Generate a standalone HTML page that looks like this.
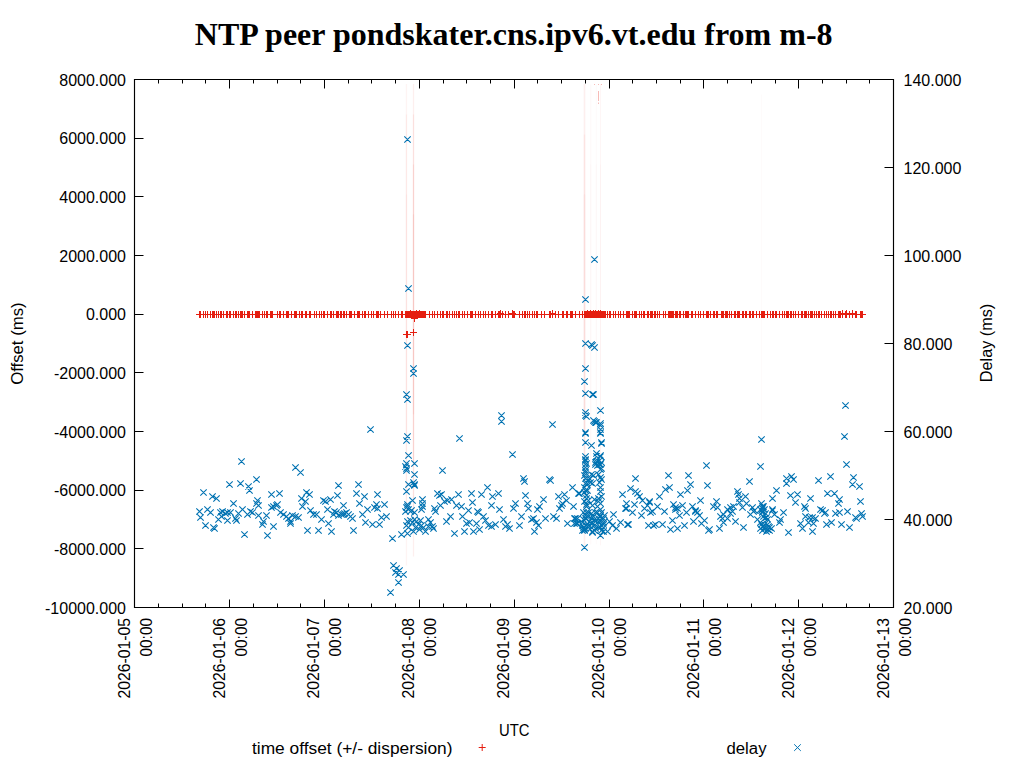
<!DOCTYPE html>
<html><head><meta charset="utf-8"><title>NTP peer pondskater.cns.ipv6.vt.edu from m-8</title><style>html,body{margin:0;padding:0;background:#fff;overflow:hidden}svg{display:block}</style></head><body>
<svg width="1024" height="768" viewBox="0 0 1024 768">
<rect width="1024" height="768" fill="#fff"/>
<line x1="406.5" y1="84.0" x2="406.5" y2="565.4" stroke="#e51e10" stroke-opacity="0.05" stroke-width="1.3"/>
<line x1="406.5" y1="114.4" x2="406.5" y2="514.4" stroke="#e51e10" stroke-opacity="0.05" stroke-width="1.3"/>
<line x1="406.5" y1="194.4" x2="406.5" y2="434.4" stroke="#e51e10" stroke-opacity="0.03" stroke-width="1.3"/>
<line x1="413.5" y1="84.0" x2="413.5" y2="556.4" stroke="#e51e10" stroke-opacity="0.07" stroke-width="1.3"/>
<line x1="413.5" y1="114.4" x2="413.5" y2="514.4" stroke="#e51e10" stroke-opacity="0.07" stroke-width="1.3"/>
<line x1="413.5" y1="164.4" x2="413.5" y2="464.4" stroke="#e51e10" stroke-opacity="0.07" stroke-width="1.3"/>
<line x1="413.5" y1="214.4" x2="413.5" y2="414.4" stroke="#e51e10" stroke-opacity="0.06" stroke-width="1.3"/>
<line x1="584.5" y1="84.0" x2="584.5" y2="545.4" stroke="#e51e10" stroke-opacity="0.07" stroke-width="1.6"/>
<line x1="584.5" y1="134.4" x2="584.5" y2="494.4" stroke="#e51e10" stroke-opacity="0.05" stroke-width="1.6"/>
<line x1="584.5" y1="194.4" x2="584.5" y2="434.4" stroke="#e51e10" stroke-opacity="0.04" stroke-width="1.6"/>
<line x1="590.8" y1="84.4" x2="590.8" y2="544.4" stroke="#e51e10" stroke-opacity="0.03" stroke-width="1.0"/>
<line x1="590.8" y1="164.4" x2="590.8" y2="464.4" stroke="#e51e10" stroke-opacity="0.02" stroke-width="1.0"/>
<line x1="596.2" y1="84.4" x2="596.2" y2="544.4" stroke="#e51e10" stroke-opacity="0.025" stroke-width="1.0"/>
<line x1="596.2" y1="164.4" x2="596.2" y2="464.4" stroke="#e51e10" stroke-opacity="0.02" stroke-width="1.0"/>
<line x1="600.6" y1="84.0" x2="600.6" y2="545.4" stroke="#e51e10" stroke-opacity="0.04" stroke-width="1.0"/>
<line x1="600.6" y1="164.4" x2="600.6" y2="464.4" stroke="#e51e10" stroke-opacity="0.02" stroke-width="1.0"/>
<line x1="761.4" y1="94.4" x2="761.4" y2="534.4" stroke="#e51e10" stroke-opacity="0.02" stroke-width="1.0"/>
<path d="M598.5 91v10M598.5 102.5v1.5M594 84.5h1M598 84.5h1M601 84.5h1" stroke="#e51e10" stroke-opacity="0.3" stroke-width="1"/>
<path d="M196 314.5h7M199.5 311v7M197 314.5h7M200.5 311v7M200 314.5h7M203.5 311v7M202 314.5h7M205.5 311v7M204 314.5h7M207.5 311v7M207 314.5h7M210.5 311v7M209 314.5h7M212.5 311v7M210 314.5h7M213.5 311v7M211 314.5h7M214.5 311v7M213 314.5h7M216.5 311v7M215 314.5h7M218.5 311v7M217 314.5h7M220.5 311v7M218 314.5h7M221.5 311v7M220 314.5h7M223.5 311v7M223 314.5h7M226.5 311v7M224 314.5h7M227.5 311v7M226 314.5h7M229.5 311v7M227 314.5h7M230.5 311v7M230 314.5h7M233.5 311v7M232 314.5h7M235.5 311v7M233 314.5h7M236.5 311v7M235 314.5h7M238.5 311v7M237 314.5h7M240.5 311v7M238 314.5h7M241.5 311v7M239 314.5h7M242.5 311v7M241 314.5h7M244.5 311v7M244 314.5h7M247.5 311v7M245 314.5h7M248.5 311v7M246 314.5h7M249.5 311v7M249 314.5h7M252.5 311v7M252 314.5h7M255.5 311v7M253 314.5h7M256.5 311v7M254 314.5h7M257.5 311v7M255 314.5h7M258.5 311v7M256 314.5h7M259.5 311v7M259 314.5h7M262.5 311v7M261 314.5h7M264.5 311v7M263 314.5h7M266.5 311v7M264 314.5h7M267.5 311v7M267 314.5h7M270.5 311v7M268 314.5h7M271.5 311v7M269 314.5h7M272.5 311v7M274 314.5h7M277.5 311v7M276 314.5h7M279.5 311v7M277 314.5h7M280.5 311v7M280 314.5h7M283.5 311v7M283 314.5h7M286.5 311v7M284 314.5h7M287.5 311v7M285 314.5h7M288.5 311v7M288 314.5h7M291.5 311v7M291 314.5h7M294.5 311v7M292 314.5h7M295.5 311v7M293 314.5h7M296.5 311v7M296 314.5h7M299.5 311v7M298 314.5h7M301.5 311v7M299 314.5h7M302.5 311v7M302 314.5h7M305.5 311v7M303 314.5h7M306.5 311v7M306 314.5h7M309.5 311v7M307 314.5h7M310.5 311v7M311 314.5h7M314.5 311v7M313 314.5h7M316.5 311v7M316 314.5h7M319.5 311v7M318 314.5h7M321.5 311v7M320 314.5h7M323.5 311v7M321 314.5h7M324.5 311v7M324 314.5h7M327.5 311v7M327 314.5h7M330.5 311v7M328 314.5h7M331.5 311v7M330 314.5h7M333.5 311v7M333 314.5h7M336.5 311v7M334 314.5h7M337.5 311v7M335 314.5h7M338.5 311v7M337 314.5h7M340.5 311v7M338 314.5h7M341.5 311v7M340 314.5h7M343.5 311v7M341 314.5h7M344.5 311v7M343 314.5h7M346.5 311v7M346 314.5h7M349.5 311v7M347 314.5h7M350.5 311v7M348 314.5h7M351.5 311v7M351 314.5h7M354.5 311v7M354 314.5h7M357.5 311v7M355 314.5h7M358.5 311v7M356 314.5h7M359.5 311v7M359 314.5h7M362.5 311v7M361 314.5h7M364.5 311v7M362 314.5h7M365.5 311v7M365 314.5h7M368.5 311v7M368 314.5h7M371.5 311v7M370 314.5h7M373.5 311v7M373 314.5h7M376.5 311v7M374 314.5h7M377.5 311v7M375 314.5h7M378.5 311v7M377 314.5h7M380.5 311v7M381 314.5h7M384.5 311v7M384 314.5h7M387.5 311v7M388 314.5h7M391.5 311v7M390 314.5h7M393.5 311v7M392 314.5h7M395.5 311v7M395 314.5h7M398.5 311v7M398 314.5h7M401.5 311v7M399 314.5h7M402.5 311v7M426 314.5h7M429.5 311v7M429 314.5h7M432.5 311v7M431 314.5h7M434.5 311v7M434 314.5h7M437.5 311v7M437 314.5h7M440.5 311v7M439 314.5h7M442.5 311v7M440 314.5h7M443.5 311v7M443 314.5h7M446.5 311v7M444 314.5h7M447.5 311v7M446 314.5h7M449.5 311v7M449 314.5h7M452.5 311v7M451 314.5h7M454.5 311v7M453 314.5h7M456.5 311v7M455 314.5h7M458.5 311v7M456 314.5h7M459.5 311v7M459 314.5h7M462.5 311v7M461 314.5h7M464.5 311v7M464 314.5h7M467.5 311v7M467 314.5h7M470.5 311v7M468 314.5h7M471.5 311v7M469 314.5h7M472.5 311v7M472 314.5h7M475.5 311v7M475 314.5h7M478.5 311v7M477 314.5h7M480.5 311v7M480 314.5h7M483.5 311v7M482 314.5h7M485.5 311v7M485 314.5h7M488.5 311v7M488 314.5h7M491.5 311v7M489 314.5h7M492.5 311v7M492 314.5h7M495.5 311v7M495 314.5h7M498.5 311v7M496 314.5h7M499.5 311v7M497 314.5h7M500.5 311v7M499 314.5h7M502.5 311v7M502 314.5h7M505.5 311v7M505 314.5h7M508.5 311v7M509 314.5h7M512.5 311v7M510 314.5h7M513.5 311v7M511 314.5h7M514.5 311v7M516 314.5h7M519.5 311v7M519 314.5h7M522.5 311v7M521 314.5h7M524.5 311v7M522 314.5h7M525.5 311v7M524 314.5h7M527.5 311v7M526 314.5h7M529.5 311v7M529 314.5h7M532.5 311v7M531 314.5h7M534.5 311v7M533 314.5h7M536.5 311v7M534 314.5h7M537.5 311v7M538 314.5h7M541.5 311v7M541 314.5h7M544.5 311v7M546 314.5h7M549.5 311v7M547 314.5h7M550.5 311v7M549 314.5h7M552.5 311v7M552 314.5h7M555.5 311v7M555 314.5h7M558.5 311v7M559 314.5h7M562.5 311v7M560 314.5h7M563.5 311v7M563 314.5h7M566.5 311v7M564 314.5h7M567.5 311v7M567 314.5h7M570.5 311v7M568 314.5h7M571.5 311v7M569 314.5h7M572.5 311v7M572 314.5h7M575.5 311v7M576 314.5h7M579.5 311v7M579 314.5h7M582.5 311v7M604 314.5h7M607.5 311v7M606 314.5h7M609.5 311v7M607 314.5h7M610.5 311v7M610 314.5h7M613.5 311v7M612 314.5h7M615.5 311v7M615 314.5h7M618.5 311v7M617 314.5h7M620.5 311v7M620 314.5h7M623.5 311v7M623 314.5h7M626.5 311v7M624 314.5h7M627.5 311v7M625 314.5h7M628.5 311v7M626 314.5h7M629.5 311v7M629 314.5h7M632.5 311v7M631 314.5h7M634.5 311v7M632 314.5h7M635.5 311v7M633 314.5h7M636.5 311v7M636 314.5h7M639.5 311v7M638 314.5h7M641.5 311v7M640 314.5h7M643.5 311v7M641 314.5h7M644.5 311v7M644 314.5h7M647.5 311v7M645 314.5h7M648.5 311v7M647 314.5h7M650.5 311v7M648 314.5h7M651.5 311v7M649 314.5h7M652.5 311v7M651 314.5h7M654.5 311v7M652 314.5h7M655.5 311v7M654 314.5h7M657.5 311v7M656 314.5h7M659.5 311v7M660 314.5h7M663.5 311v7M662 314.5h7M665.5 311v7M665 314.5h7M668.5 311v7M666 314.5h7M669.5 311v7M667 314.5h7M670.5 311v7M668 314.5h7M671.5 311v7M669 314.5h7M672.5 311v7M670 314.5h7M673.5 311v7M672 314.5h7M675.5 311v7M673 314.5h7M676.5 311v7M674 314.5h7M677.5 311v7M676 314.5h7M679.5 311v7M677 314.5h7M680.5 311v7M680 314.5h7M683.5 311v7M682 314.5h7M685.5 311v7M683 314.5h7M686.5 311v7M684 314.5h7M687.5 311v7M685 314.5h7M688.5 311v7M688 314.5h7M691.5 311v7M689 314.5h7M692.5 311v7M692 314.5h7M695.5 311v7M695 314.5h7M698.5 311v7M697 314.5h7M700.5 311v7M700 314.5h7M703.5 311v7M703 314.5h7M706.5 311v7M704 314.5h7M707.5 311v7M705 314.5h7M708.5 311v7M707 314.5h7M710.5 311v7M710 314.5h7M713.5 311v7M711 314.5h7M714.5 311v7M713 314.5h7M716.5 311v7M714 314.5h7M717.5 311v7M718 314.5h7M721.5 311v7M719 314.5h7M722.5 311v7M720 314.5h7M723.5 311v7M722 314.5h7M725.5 311v7M723 314.5h7M726.5 311v7M724 314.5h7M727.5 311v7M726 314.5h7M729.5 311v7M728 314.5h7M731.5 311v7M731 314.5h7M734.5 311v7M732 314.5h7M735.5 311v7M734 314.5h7M737.5 311v7M735 314.5h7M738.5 311v7M736 314.5h7M739.5 311v7M739 314.5h7M742.5 311v7M740 314.5h7M743.5 311v7M742 314.5h7M745.5 311v7M743 314.5h7M746.5 311v7M746 314.5h7M749.5 311v7M747 314.5h7M750.5 311v7M749 314.5h7M752.5 311v7M750 314.5h7M753.5 311v7M753 314.5h7M756.5 311v7M756 314.5h7M759.5 311v7M758 314.5h7M761.5 311v7M759 314.5h7M762.5 311v7M760 314.5h7M763.5 311v7M761 314.5h7M764.5 311v7M764 314.5h7M767.5 311v7M767 314.5h7M770.5 311v7M769 314.5h7M772.5 311v7M770 314.5h7M773.5 311v7M772 314.5h7M775.5 311v7M773 314.5h7M776.5 311v7M776 314.5h7M779.5 311v7M779 314.5h7M782.5 311v7M781 314.5h7M784.5 311v7M783 314.5h7M786.5 311v7M784 314.5h7M787.5 311v7M785 314.5h7M788.5 311v7M787 314.5h7M790.5 311v7M788 314.5h7M791.5 311v7M790 314.5h7M793.5 311v7M792 314.5h7M795.5 311v7M795 314.5h7M798.5 311v7M798 314.5h7M801.5 311v7M799 314.5h7M802.5 311v7M801 314.5h7M804.5 311v7M802 314.5h7M805.5 311v7M803 314.5h7M806.5 311v7M805 314.5h7M808.5 311v7M807 314.5h7M810.5 311v7M808 314.5h7M811.5 311v7M809 314.5h7M812.5 311v7M811 314.5h7M814.5 311v7M813 314.5h7M816.5 311v7M815 314.5h7M818.5 311v7M816 314.5h7M819.5 311v7M818 314.5h7M821.5 311v7M821 314.5h7M824.5 311v7M823 314.5h7M826.5 311v7M825 314.5h7M828.5 311v7M827 314.5h7M830.5 311v7M828 314.5h7M831.5 311v7M830 314.5h7M833.5 311v7M832 314.5h7M835.5 311v7M835 314.5h7M838.5 311v7M836 314.5h7M839.5 311v7M837 314.5h7M840.5 311v7M839 314.5h7M842.5 311v7M842 314.5h7M845.5 311v7M843 314.5h7M846.5 311v7M846 314.5h7M849.5 311v7M849 314.5h7M852.5 311v7M852 314.5h7M855.5 311v7M853 314.5h7M856.5 311v7M857 314.5h7M860.5 311v7M858 314.5h7M861.5 311v7M859 314.5h7M862.5 311v7M402 314.5h7M405.5 311v7M403 314.5h7M406.5 311v7M404 314.5h7M407.5 311v7M405 314.5h7M408.5 311v7M406 314.5h7M409.5 311v7M407 314.5h7M410.5 311v7M408 314.5h7M411.5 311v7M409 314.5h7M412.5 311v7M410 314.5h7M413.5 311v7M411 314.5h7M414.5 311v7M412 314.5h7M415.5 311v7M413 314.5h7M416.5 311v7M414 314.5h7M417.5 311v7M415 314.5h7M418.5 311v7M416 314.5h7M419.5 311v7M417 314.5h7M420.5 311v7M418 314.5h7M421.5 311v7M419 314.5h7M422.5 311v7M420 314.5h7M423.5 311v7M421 314.5h7M424.5 311v7M422 314.5h7M425.5 311v7M581 314.5h7M584.5 311v7M582 314.5h7M585.5 311v7M583 314.5h7M586.5 311v7M584 314.5h7M587.5 311v7M585 314.5h7M588.5 311v7M586 314.5h7M589.5 311v7M587 314.5h7M590.5 311v7M588 314.5h7M591.5 311v7M589 314.5h7M592.5 311v7M590 314.5h7M593.5 311v7M591 314.5h7M594.5 311v7M592 314.5h7M595.5 311v7M593 314.5h7M596.5 311v7M594 314.5h7M597.5 311v7M595 314.5h7M598.5 311v7M596 314.5h7M599.5 311v7M597 314.5h7M600.5 311v7M598 314.5h7M601.5 311v7M599 314.5h7M602.5 311v7M600 314.5h7M603.5 311v7M601 314.5h7M604.5 311v7M602 314.5h7M605.5 311v7M597 313.5h7M600.5 310v7M592 313.5h7M595.5 310v7M587 313.5h7M590.5 310v7M584 313.5h7M587.5 310v7M590 313.5h7M593.5 310v7M595 313.5h7M598.5 310v7M407 313.5h7M410.5 310v7M413 313.5h7M416.5 310v7M416 313.5h7M419.5 310v7M549 313.5h7M552.5 310v7M497 313.5h7M500.5 310v7M509 313.5h7M512.5 310v7M843 313.5h7M846.5 310v7M849 313.5h7M852.5 310v7M839 313.5h7M842.5 310v7M403 334.5h7M406.5 331v7M404 334.5h7M407.5 331v7M410 332.5h7M413.5 329v7M411 318.5h7M414.5 315v7" stroke="#e51e10" stroke-width="1" fill="none"/>
<path d="M238.3 458.3l6.4 6.4M238.3 464.7l6.4 -6.4M292.3 464.3l6.4 6.4M292.3 470.7l6.4 -6.4M297.3 469.3l6.4 6.4M297.3 475.7l6.4 -6.4M253.3 476.3l6.4 6.4M253.3 482.7l6.4 -6.4M226.3 481.3l6.4 6.4M226.3 487.7l6.4 -6.4M237.3 480.3l6.4 6.4M237.3 486.7l6.4 -6.4M245.3 483.3l6.4 6.4M245.3 489.7l6.4 -6.4M246.3 487.3l6.4 6.4M246.3 493.7l6.4 -6.4M200.3 489.3l6.4 6.4M200.3 495.7l6.4 -6.4M209.3 493.3l6.4 6.4M209.3 499.7l6.4 -6.4M213.3 495.3l6.4 6.4M213.3 501.7l6.4 -6.4M268.3 491.3l6.4 6.4M268.3 497.7l6.4 -6.4M276.3 490.3l6.4 6.4M276.3 496.7l6.4 -6.4M303.3 489.3l6.4 6.4M303.3 495.7l6.4 -6.4M306.3 491.3l6.4 6.4M306.3 497.7l6.4 -6.4M298.3 495.3l6.4 6.4M298.3 501.7l6.4 -6.4M302.3 498.3l6.4 6.4M302.3 504.7l6.4 -6.4M299.3 503.3l6.4 6.4M299.3 509.7l6.4 -6.4M230.3 500.3l6.4 6.4M230.3 506.7l6.4 -6.4M254.3 497.3l6.4 6.4M254.3 503.7l6.4 -6.4M253.3 500.3l6.4 6.4M253.3 506.7l6.4 -6.4M255.3 502.3l6.4 6.4M255.3 508.7l6.4 -6.4M268.3 504.3l6.4 6.4M268.3 510.7l6.4 -6.4M270.3 503.3l6.4 6.4M270.3 509.7l6.4 -6.4M273.3 502.3l6.4 6.4M273.3 508.7l6.4 -6.4M274.3 501.3l6.4 6.4M274.3 507.7l6.4 -6.4M204.3 506.3l6.4 6.4M204.3 512.7l6.4 -6.4M239.3 506.3l6.4 6.4M239.3 512.7l6.4 -6.4M307.3 507.3l6.4 6.4M307.3 513.7l6.4 -6.4M196.3 508.3l6.4 6.4M196.3 514.7l6.4 -6.4M207.3 509.3l6.4 6.4M207.3 515.7l6.4 -6.4M197.3 514.3l6.4 6.4M197.3 520.7l6.4 -6.4M202.3 522.3l6.4 6.4M202.3 528.7l6.4 -6.4M210.3 524.3l6.4 6.4M210.3 530.7l6.4 -6.4M211.3 525.3l6.4 6.4M211.3 531.7l6.4 -6.4M217.3 509.3l6.4 6.4M217.3 515.7l6.4 -6.4M219.3 508.3l6.4 6.4M219.3 514.7l6.4 -6.4M222.3 510.3l6.4 6.4M222.3 516.7l6.4 -6.4M224.3 509.3l6.4 6.4M224.3 515.7l6.4 -6.4M227.3 509.3l6.4 6.4M227.3 515.7l6.4 -6.4M215.3 516.3l6.4 6.4M215.3 522.7l6.4 -6.4M218.3 513.3l6.4 6.4M218.3 519.7l6.4 -6.4M224.3 517.3l6.4 6.4M224.3 523.7l6.4 -6.4M232.3 515.3l6.4 6.4M232.3 521.7l6.4 -6.4M233.3 517.3l6.4 6.4M233.3 523.7l6.4 -6.4M235.3 510.3l6.4 6.4M235.3 516.7l6.4 -6.4M244.3 511.3l6.4 6.4M244.3 517.7l6.4 -6.4M247.3 508.3l6.4 6.4M247.3 514.7l6.4 -6.4M249.3 509.3l6.4 6.4M249.3 515.7l6.4 -6.4M241.3 531.3l6.4 6.4M241.3 537.7l6.4 -6.4M255.3 512.3l6.4 6.4M255.3 518.7l6.4 -6.4M263.3 512.3l6.4 6.4M263.3 518.7l6.4 -6.4M260.3 518.3l6.4 6.4M260.3 524.7l6.4 -6.4M259.3 521.3l6.4 6.4M259.3 527.7l6.4 -6.4M270.3 523.3l6.4 6.4M270.3 529.7l6.4 -6.4M264.3 532.3l6.4 6.4M264.3 538.7l6.4 -6.4M277.3 509.3l6.4 6.4M277.3 515.7l6.4 -6.4M280.3 511.3l6.4 6.4M280.3 517.7l6.4 -6.4M283.3 513.3l6.4 6.4M283.3 519.7l6.4 -6.4M285.3 515.3l6.4 6.4M285.3 521.7l6.4 -6.4M287.3 518.3l6.4 6.4M287.3 524.7l6.4 -6.4M287.3 520.3l6.4 6.4M287.3 526.7l6.4 -6.4M289.3 512.3l6.4 6.4M289.3 518.7l6.4 -6.4M292.3 513.3l6.4 6.4M292.3 519.7l6.4 -6.4M295.3 514.3l6.4 6.4M295.3 520.7l6.4 -6.4M310.3 511.3l6.4 6.4M310.3 517.7l6.4 -6.4M313.3 511.3l6.4 6.4M313.3 517.7l6.4 -6.4M304.3 527.3l6.4 6.4M304.3 533.7l6.4 -6.4M315.3 527.3l6.4 6.4M315.3 533.7l6.4 -6.4M367.3 426.3l6.4 6.4M367.3 432.7l6.4 -6.4M404.3 433.3l6.4 6.4M404.3 439.7l6.4 -6.4M403.3 437.3l6.4 6.4M403.3 443.7l6.4 -6.4M405.3 452.3l6.4 6.4M405.3 458.7l6.4 -6.4M403.3 460.3l6.4 6.4M403.3 466.7l6.4 -6.4M402.3 463.3l6.4 6.4M402.3 469.7l6.4 -6.4M403.3 465.3l6.4 6.4M403.3 471.7l6.4 -6.4M403.3 467.3l6.4 6.4M403.3 473.7l6.4 -6.4M411.3 460.3l6.4 6.4M411.3 466.7l6.4 -6.4M411.3 471.3l6.4 6.4M411.3 477.7l6.4 -6.4M410.3 479.3l6.4 6.4M410.3 485.7l6.4 -6.4M411.3 481.3l6.4 6.4M411.3 487.7l6.4 -6.4M411.3 482.3l6.4 6.4M411.3 488.7l6.4 -6.4M405.3 481.3l6.4 6.4M405.3 487.7l6.4 -6.4M403.3 488.3l6.4 6.4M403.3 494.7l6.4 -6.4M409.3 497.3l6.4 6.4M409.3 503.7l6.4 -6.4M439.3 467.3l6.4 6.4M439.3 473.7l6.4 -6.4M335.3 482.3l6.4 6.4M335.3 488.7l6.4 -6.4M355.3 481.3l6.4 6.4M355.3 487.7l6.4 -6.4M334.3 492.3l6.4 6.4M334.3 498.7l6.4 -6.4M353.3 490.3l6.4 6.4M353.3 496.7l6.4 -6.4M361.3 493.3l6.4 6.4M361.3 499.7l6.4 -6.4M374.3 491.3l6.4 6.4M374.3 497.7l6.4 -6.4M320.3 497.3l6.4 6.4M320.3 503.7l6.4 -6.4M322.3 498.3l6.4 6.4M322.3 504.7l6.4 -6.4M327.3 496.3l6.4 6.4M327.3 502.7l6.4 -6.4M340.3 502.3l6.4 6.4M340.3 508.7l6.4 -6.4M356.3 500.3l6.4 6.4M356.3 506.7l6.4 -6.4M373.3 501.3l6.4 6.4M373.3 507.7l6.4 -6.4M371.3 504.3l6.4 6.4M371.3 510.7l6.4 -6.4M374.3 505.3l6.4 6.4M374.3 511.7l6.4 -6.4M381.3 501.3l6.4 6.4M381.3 507.7l6.4 -6.4M419.3 496.3l6.4 6.4M419.3 502.7l6.4 -6.4M419.3 500.3l6.4 6.4M419.3 506.7l6.4 -6.4M419.3 503.3l6.4 6.4M419.3 509.7l6.4 -6.4M418.3 506.3l6.4 6.4M418.3 512.7l6.4 -6.4M434.3 490.3l6.4 6.4M434.3 496.7l6.4 -6.4M438.3 491.3l6.4 6.4M438.3 497.7l6.4 -6.4M436.3 492.3l6.4 6.4M436.3 498.7l6.4 -6.4M441.3 498.3l6.4 6.4M441.3 504.7l6.4 -6.4M444.3 497.3l6.4 6.4M444.3 503.7l6.4 -6.4M437.3 502.3l6.4 6.4M437.3 508.7l6.4 -6.4M431.3 505.3l6.4 6.4M431.3 511.7l6.4 -6.4M432.3 508.3l6.4 6.4M432.3 514.7l6.4 -6.4M324.3 506.3l6.4 6.4M324.3 512.7l6.4 -6.4M364.3 506.3l6.4 6.4M364.3 512.7l6.4 -6.4M408.3 507.3l6.4 6.4M408.3 513.7l6.4 -6.4M402.3 508.3l6.4 6.4M402.3 514.7l6.4 -6.4M404.3 501.3l6.4 6.4M404.3 507.7l6.4 -6.4M403.3 504.3l6.4 6.4M403.3 510.7l6.4 -6.4M405.3 506.3l6.4 6.4M405.3 512.7l6.4 -6.4M404.3 503.3l6.4 6.4M404.3 509.7l6.4 -6.4M318.3 516.3l6.4 6.4M318.3 522.7l6.4 -6.4M325.3 520.3l6.4 6.4M325.3 526.7l6.4 -6.4M328.3 528.3l6.4 6.4M328.3 534.7l6.4 -6.4M331.3 508.3l6.4 6.4M331.3 514.7l6.4 -6.4M333.3 509.3l6.4 6.4M333.3 515.7l6.4 -6.4M330.3 511.3l6.4 6.4M330.3 517.7l6.4 -6.4M335.3 512.3l6.4 6.4M335.3 518.7l6.4 -6.4M338.3 511.3l6.4 6.4M338.3 517.7l6.4 -6.4M340.3 511.3l6.4 6.4M340.3 517.7l6.4 -6.4M341.3 510.3l6.4 6.4M341.3 516.7l6.4 -6.4M343.3 509.3l6.4 6.4M343.3 515.7l6.4 -6.4M345.3 511.3l6.4 6.4M345.3 517.7l6.4 -6.4M347.3 513.3l6.4 6.4M347.3 519.7l6.4 -6.4M349.3 515.3l6.4 6.4M349.3 521.7l6.4 -6.4M350.3 527.3l6.4 6.4M350.3 533.7l6.4 -6.4M359.3 511.3l6.4 6.4M359.3 517.7l6.4 -6.4M362.3 519.3l6.4 6.4M362.3 525.7l6.4 -6.4M369.3 521.3l6.4 6.4M369.3 527.7l6.4 -6.4M376.3 521.3l6.4 6.4M376.3 527.7l6.4 -6.4M378.3 514.3l6.4 6.4M378.3 520.7l6.4 -6.4M383.3 513.3l6.4 6.4M383.3 519.7l6.4 -6.4M389.3 535.3l6.4 6.4M389.3 541.7l6.4 -6.4M398.3 531.3l6.4 6.4M398.3 537.7l6.4 -6.4M404.3 530.3l6.4 6.4M404.3 536.7l6.4 -6.4M407.3 508.3l6.4 6.4M407.3 514.7l6.4 -6.4M443.3 518.3l6.4 6.4M443.3 524.7l6.4 -6.4M390.3 562.3l6.4 6.4M390.3 568.7l6.4 -6.4M393.3 565.3l6.4 6.4M393.3 571.7l6.4 -6.4M396.3 567.3l6.4 6.4M396.3 573.7l6.4 -6.4M392.3 569.3l6.4 6.4M392.3 575.7l6.4 -6.4M400.3 571.3l6.4 6.4M400.3 577.7l6.4 -6.4M395.3 571.3l6.4 6.4M395.3 577.7l6.4 -6.4M395.3 579.3l6.4 6.4M395.3 585.7l6.4 -6.4M387.3 589.3l6.4 6.4M387.3 595.7l6.4 -6.4M404.3 518.3l6.4 6.4M404.3 524.7l6.4 -6.4M403.3 522.3l6.4 6.4M403.3 528.7l6.4 -6.4M407.3 517.3l6.4 6.4M407.3 523.7l6.4 -6.4M409.3 519.3l6.4 6.4M409.3 525.7l6.4 -6.4M411.3 516.3l6.4 6.4M411.3 522.7l6.4 -6.4M413.3 518.3l6.4 6.4M413.3 524.7l6.4 -6.4M415.3 521.3l6.4 6.4M415.3 527.7l6.4 -6.4M417.3 517.3l6.4 6.4M417.3 523.7l6.4 -6.4M418.3 522.3l6.4 6.4M418.3 528.7l6.4 -6.4M420.3 524.3l6.4 6.4M420.3 530.7l6.4 -6.4M425.3 516.3l6.4 6.4M425.3 522.7l6.4 -6.4M427.3 519.3l6.4 6.4M427.3 525.7l6.4 -6.4M429.3 523.3l6.4 6.4M429.3 529.7l6.4 -6.4M430.3 525.3l6.4 6.4M430.3 531.7l6.4 -6.4M412.3 524.3l6.4 6.4M412.3 530.7l6.4 -6.4M416.3 526.3l6.4 6.4M416.3 532.7l6.4 -6.4M410.3 528.3l6.4 6.4M410.3 534.7l6.4 -6.4M422.3 528.3l6.4 6.4M422.3 534.7l6.4 -6.4M425.3 523.3l6.4 6.4M425.3 529.7l6.4 -6.4M405.3 524.3l6.4 6.4M405.3 530.7l6.4 -6.4M411.3 509.3l6.4 6.4M411.3 515.7l6.4 -6.4M498.3 418.3l6.4 6.4M498.3 424.7l6.4 -6.4M549.3 421.3l6.4 6.4M549.3 427.7l6.4 -6.4M456.3 435.3l6.4 6.4M456.3 441.7l6.4 -6.4M509.3 451.3l6.4 6.4M509.3 457.7l6.4 -6.4M520.3 475.3l6.4 6.4M520.3 481.7l6.4 -6.4M521.3 478.3l6.4 6.4M521.3 484.7l6.4 -6.4M546.3 476.3l6.4 6.4M546.3 482.7l6.4 -6.4M547.3 477.3l6.4 6.4M547.3 483.7l6.4 -6.4M484.3 484.3l6.4 6.4M484.3 490.7l6.4 -6.4M455.3 491.3l6.4 6.4M455.3 497.7l6.4 -6.4M468.3 490.3l6.4 6.4M468.3 496.7l6.4 -6.4M478.3 491.3l6.4 6.4M478.3 497.7l6.4 -6.4M489.3 493.3l6.4 6.4M489.3 499.7l6.4 -6.4M495.3 490.3l6.4 6.4M495.3 496.7l6.4 -6.4M448.3 496.3l6.4 6.4M448.3 502.7l6.4 -6.4M469.3 499.3l6.4 6.4M469.3 505.7l6.4 -6.4M453.3 502.3l6.4 6.4M453.3 508.7l6.4 -6.4M458.3 503.3l6.4 6.4M458.3 509.7l6.4 -6.4M488.3 502.3l6.4 6.4M488.3 508.7l6.4 -6.4M465.3 507.3l6.4 6.4M465.3 513.7l6.4 -6.4M496.3 506.3l6.4 6.4M496.3 512.7l6.4 -6.4M522.3 492.3l6.4 6.4M522.3 498.7l6.4 -6.4M512.3 500.3l6.4 6.4M512.3 506.7l6.4 -6.4M510.3 505.3l6.4 6.4M510.3 511.7l6.4 -6.4M524.3 500.3l6.4 6.4M524.3 506.7l6.4 -6.4M525.3 505.3l6.4 6.4M525.3 511.7l6.4 -6.4M540.3 496.3l6.4 6.4M540.3 502.7l6.4 -6.4M536.3 503.3l6.4 6.4M536.3 509.7l6.4 -6.4M534.3 506.3l6.4 6.4M534.3 512.7l6.4 -6.4M555.3 493.3l6.4 6.4M555.3 499.7l6.4 -6.4M561.3 491.3l6.4 6.4M561.3 497.7l6.4 -6.4M569.3 484.3l6.4 6.4M569.3 490.7l6.4 -6.4M563.3 497.3l6.4 6.4M563.3 503.7l6.4 -6.4M559.3 500.3l6.4 6.4M559.3 506.7l6.4 -6.4M558.3 502.3l6.4 6.4M558.3 508.7l6.4 -6.4M556.3 505.3l6.4 6.4M556.3 511.7l6.4 -6.4M570.3 503.3l6.4 6.4M570.3 509.7l6.4 -6.4M447.3 513.3l6.4 6.4M447.3 519.7l6.4 -6.4M459.3 513.3l6.4 6.4M459.3 519.7l6.4 -6.4M475.3 509.3l6.4 6.4M475.3 515.7l6.4 -6.4M480.3 513.3l6.4 6.4M480.3 519.7l6.4 -6.4M482.3 517.3l6.4 6.4M482.3 523.7l6.4 -6.4M463.3 520.3l6.4 6.4M463.3 526.7l6.4 -6.4M466.3 519.3l6.4 6.4M466.3 525.7l6.4 -6.4M473.3 520.3l6.4 6.4M473.3 526.7l6.4 -6.4M485.3 522.3l6.4 6.4M485.3 528.7l6.4 -6.4M488.3 523.3l6.4 6.4M488.3 529.7l6.4 -6.4M492.3 521.3l6.4 6.4M492.3 527.7l6.4 -6.4M451.3 530.3l6.4 6.4M451.3 536.7l6.4 -6.4M461.3 528.3l6.4 6.4M461.3 534.7l6.4 -6.4M470.3 528.3l6.4 6.4M470.3 534.7l6.4 -6.4M476.3 526.3l6.4 6.4M476.3 532.7l6.4 -6.4M500.3 516.3l6.4 6.4M500.3 522.7l6.4 -6.4M502.3 523.3l6.4 6.4M502.3 529.7l6.4 -6.4M504.3 521.3l6.4 6.4M504.3 527.7l6.4 -6.4M506.3 525.3l6.4 6.4M506.3 531.7l6.4 -6.4M518.3 513.3l6.4 6.4M518.3 519.7l6.4 -6.4M516.3 522.3l6.4 6.4M516.3 528.7l6.4 -6.4M528.3 516.3l6.4 6.4M528.3 522.7l6.4 -6.4M530.3 515.3l6.4 6.4M530.3 521.7l6.4 -6.4M533.3 519.3l6.4 6.4M533.3 525.7l6.4 -6.4M535.3 522.3l6.4 6.4M535.3 528.7l6.4 -6.4M531.3 528.3l6.4 6.4M531.3 534.7l6.4 -6.4M542.3 515.3l6.4 6.4M542.3 521.7l6.4 -6.4M550.3 513.3l6.4 6.4M550.3 519.7l6.4 -6.4M553.3 515.3l6.4 6.4M553.3 521.7l6.4 -6.4M564.3 520.3l6.4 6.4M564.3 526.7l6.4 -6.4M571.3 515.3l6.4 6.4M571.3 521.7l6.4 -6.4M571.3 520.3l6.4 6.4M571.3 526.7l6.4 -6.4M474.3 508.3l6.4 6.4M474.3 514.7l6.4 -6.4M632.3 475.3l6.4 6.4M632.3 481.7l6.4 -6.4M665.3 472.3l6.4 6.4M665.3 478.7l6.4 -6.4M685.3 472.3l6.4 6.4M685.3 478.7l6.4 -6.4M687.3 481.3l6.4 6.4M687.3 487.7l6.4 -6.4M666.3 484.3l6.4 6.4M666.3 490.7l6.4 -6.4M662.3 486.3l6.4 6.4M662.3 492.7l6.4 -6.4M684.3 487.3l6.4 6.4M684.3 493.7l6.4 -6.4M627.3 485.3l6.4 6.4M627.3 491.7l6.4 -6.4M619.3 491.3l6.4 6.4M619.3 497.7l6.4 -6.4M632.3 488.3l6.4 6.4M632.3 494.7l6.4 -6.4M634.3 490.3l6.4 6.4M634.3 496.7l6.4 -6.4M636.3 493.3l6.4 6.4M636.3 499.7l6.4 -6.4M639.3 497.3l6.4 6.4M639.3 503.7l6.4 -6.4M646.3 498.3l6.4 6.4M646.3 504.7l6.4 -6.4M656.3 493.3l6.4 6.4M656.3 499.7l6.4 -6.4M677.3 491.3l6.4 6.4M677.3 497.7l6.4 -6.4M697.3 497.3l6.4 6.4M697.3 503.7l6.4 -6.4M623.3 500.3l6.4 6.4M623.3 506.7l6.4 -6.4M622.3 505.3l6.4 6.4M622.3 511.7l6.4 -6.4M631.3 501.3l6.4 6.4M631.3 507.7l6.4 -6.4M641.3 505.3l6.4 6.4M641.3 511.7l6.4 -6.4M644.3 502.3l6.4 6.4M644.3 508.7l6.4 -6.4M646.3 499.3l6.4 6.4M646.3 505.7l6.4 -6.4M654.3 503.3l6.4 6.4M654.3 509.7l6.4 -6.4M661.3 508.3l6.4 6.4M661.3 514.7l6.4 -6.4M670.3 501.3l6.4 6.4M670.3 507.7l6.4 -6.4M672.3 504.3l6.4 6.4M672.3 510.7l6.4 -6.4M679.3 502.3l6.4 6.4M679.3 508.7l6.4 -6.4M689.3 503.3l6.4 6.4M689.3 509.7l6.4 -6.4M692.3 507.3l6.4 6.4M692.3 513.7l6.4 -6.4M576.3 490.3l6.4 6.4M576.3 496.7l6.4 -6.4M572.3 515.3l6.4 6.4M572.3 521.7l6.4 -6.4M573.3 520.3l6.4 6.4M573.3 526.7l6.4 -6.4M591.3 256.3l6.4 6.4M591.3 262.7l6.4 -6.4M582.3 296.3l6.4 6.4M582.3 302.7l6.4 -6.4M582.3 340.3l6.4 6.4M582.3 346.7l6.4 -6.4M588.3 341.3l6.4 6.4M588.3 347.7l6.4 -6.4M589.3 342.3l6.4 6.4M589.3 348.7l6.4 -6.4M591.3 344.3l6.4 6.4M591.3 350.7l6.4 -6.4M582.3 365.3l6.4 6.4M582.3 371.7l6.4 -6.4M581.3 378.3l6.4 6.4M581.3 384.7l6.4 -6.4M582.3 390.3l6.4 6.4M582.3 396.7l6.4 -6.4M589.3 391.3l6.4 6.4M589.3 397.7l6.4 -6.4M590.3 391.3l6.4 6.4M590.3 397.7l6.4 -6.4M597.3 407.3l6.4 6.4M597.3 413.7l6.4 -6.4M582.3 409.3l6.4 6.4M582.3 415.7l6.4 -6.4M582.3 412.3l6.4 6.4M582.3 418.7l6.4 -6.4M583.3 413.3l6.4 6.4M583.3 419.7l6.4 -6.4M590.3 417.3l6.4 6.4M590.3 423.7l6.4 -6.4M592.3 419.3l6.4 6.4M592.3 425.7l6.4 -6.4M597.3 420.3l6.4 6.4M597.3 426.7l6.4 -6.4M591.3 418.3l6.4 6.4M591.3 424.7l6.4 -6.4M593.3 419.3l6.4 6.4M593.3 425.7l6.4 -6.4M597.3 422.3l6.4 6.4M597.3 428.7l6.4 -6.4M597.3 426.3l6.4 6.4M597.3 432.7l6.4 -6.4M582.3 429.3l6.4 6.4M582.3 435.7l6.4 -6.4M582.3 430.3l6.4 6.4M582.3 436.7l6.4 -6.4M597.3 429.3l6.4 6.4M597.3 435.7l6.4 -6.4M597.3 430.3l6.4 6.4M597.3 436.7l6.4 -6.4M582.3 439.3l6.4 6.4M582.3 445.7l6.4 -6.4M588.3 442.3l6.4 6.4M588.3 448.7l6.4 -6.4M598.3 439.3l6.4 6.4M598.3 445.7l6.4 -6.4M598.3 440.3l6.4 6.4M598.3 446.7l6.4 -6.4M593.3 450.3l6.4 6.4M593.3 456.7l6.4 -6.4M597.3 453.3l6.4 6.4M597.3 459.7l6.4 -6.4M582.3 453.3l6.4 6.4M582.3 459.7l6.4 -6.4M582.3 457.3l6.4 6.4M582.3 463.7l6.4 -6.4M582.3 461.3l6.4 6.4M582.3 467.7l6.4 -6.4M582.3 464.3l6.4 6.4M582.3 470.7l6.4 -6.4M593.3 458.3l6.4 6.4M593.3 464.7l6.4 -6.4M595.3 458.3l6.4 6.4M595.3 464.7l6.4 -6.4M597.3 461.3l6.4 6.4M597.3 467.7l6.4 -6.4M594.3 462.3l6.4 6.4M594.3 468.7l6.4 -6.4M598.3 465.3l6.4 6.4M598.3 471.7l6.4 -6.4M592.3 461.3l6.4 6.4M592.3 467.7l6.4 -6.4M610.3 511.3l6.4 6.4M610.3 517.7l6.4 -6.4M623.3 505.3l6.4 6.4M623.3 511.7l6.4 -6.4M617.3 519.3l6.4 6.4M617.3 525.7l6.4 -6.4M613.3 525.3l6.4 6.4M613.3 531.7l6.4 -6.4M606.3 518.3l6.4 6.4M606.3 524.7l6.4 -6.4M609.3 522.3l6.4 6.4M609.3 528.7l6.4 -6.4M604.3 528.3l6.4 6.4M604.3 534.7l6.4 -6.4M624.3 521.3l6.4 6.4M624.3 527.7l6.4 -6.4M597.3 532.3l6.4 6.4M597.3 538.7l6.4 -6.4M581.3 526.3l6.4 6.4M581.3 532.7l6.4 -6.4M581.3 544.3l6.4 6.4M581.3 550.7l6.4 -6.4M629.3 509.3l6.4 6.4M629.3 515.7l6.4 -6.4M638.3 512.3l6.4 6.4M638.3 518.7l6.4 -6.4M647.3 509.3l6.4 6.4M647.3 515.7l6.4 -6.4M649.3 508.3l6.4 6.4M649.3 514.7l6.4 -6.4M672.3 506.3l6.4 6.4M672.3 512.7l6.4 -6.4M674.3 505.3l6.4 6.4M674.3 511.7l6.4 -6.4M676.3 512.3l6.4 6.4M676.3 518.7l6.4 -6.4M683.3 509.3l6.4 6.4M683.3 515.7l6.4 -6.4M692.3 508.3l6.4 6.4M692.3 514.7l6.4 -6.4M694.3 509.3l6.4 6.4M694.3 515.7l6.4 -6.4M696.3 512.3l6.4 6.4M696.3 518.7l6.4 -6.4M669.3 517.3l6.4 6.4M669.3 523.7l6.4 -6.4M690.3 518.3l6.4 6.4M690.3 524.7l6.4 -6.4M625.3 521.3l6.4 6.4M625.3 527.7l6.4 -6.4M645.3 522.3l6.4 6.4M645.3 528.7l6.4 -6.4M650.3 522.3l6.4 6.4M650.3 528.7l6.4 -6.4M652.3 521.3l6.4 6.4M652.3 527.7l6.4 -6.4M659.3 521.3l6.4 6.4M659.3 527.7l6.4 -6.4M667.3 526.3l6.4 6.4M667.3 532.7l6.4 -6.4M674.3 525.3l6.4 6.4M674.3 531.7l6.4 -6.4M681.3 522.3l6.4 6.4M681.3 528.7l6.4 -6.4M698.3 520.3l6.4 6.4M698.3 526.7l6.4 -6.4M404.3 136.3l6.4 6.4M404.3 142.7l6.4 -6.4M405.3 285.3l6.4 6.4M405.3 291.7l6.4 -6.4M404.3 342.3l6.4 6.4M404.3 348.7l6.4 -6.4M410.3 365.3l6.4 6.4M410.3 371.7l6.4 -6.4M410.3 370.3l6.4 6.4M410.3 376.7l6.4 -6.4M403.3 391.3l6.4 6.4M403.3 397.7l6.4 -6.4M404.3 396.3l6.4 6.4M404.3 402.7l6.4 -6.4M582.3 456.3l6.4 6.4M582.3 462.7l6.4 -6.4M583.3 460.3l6.4 6.4M583.3 466.7l6.4 -6.4M582.3 467.3l6.4 6.4M582.3 473.7l6.4 -6.4M582.3 469.3l6.4 6.4M582.3 475.7l6.4 -6.4M581.3 472.3l6.4 6.4M581.3 478.7l6.4 -6.4M582.3 475.3l6.4 6.4M582.3 481.7l6.4 -6.4M583.3 479.3l6.4 6.4M583.3 485.7l6.4 -6.4M583.3 481.3l6.4 6.4M583.3 487.7l6.4 -6.4M581.3 484.3l6.4 6.4M581.3 490.7l6.4 -6.4M582.3 487.3l6.4 6.4M582.3 493.7l6.4 -6.4M581.3 489.3l6.4 6.4M581.3 495.7l6.4 -6.4M583.3 492.3l6.4 6.4M583.3 498.7l6.4 -6.4M583.3 495.3l6.4 6.4M583.3 501.7l6.4 -6.4M581.3 498.3l6.4 6.4M581.3 504.7l6.4 -6.4M583.3 501.3l6.4 6.4M583.3 507.7l6.4 -6.4M583.3 503.3l6.4 6.4M583.3 509.7l6.4 -6.4M593.3 453.3l6.4 6.4M593.3 459.7l6.4 -6.4M597.3 452.3l6.4 6.4M597.3 458.7l6.4 -6.4M592.3 459.3l6.4 6.4M592.3 465.7l6.4 -6.4M596.3 461.3l6.4 6.4M596.3 467.7l6.4 -6.4M598.3 459.3l6.4 6.4M598.3 465.7l6.4 -6.4M597.3 466.3l6.4 6.4M597.3 472.7l6.4 -6.4M595.3 471.3l6.4 6.4M595.3 477.7l6.4 -6.4M597.3 474.3l6.4 6.4M597.3 480.7l6.4 -6.4M598.3 476.3l6.4 6.4M598.3 482.7l6.4 -6.4M596.3 479.3l6.4 6.4M596.3 485.7l6.4 -6.4M597.3 484.3l6.4 6.4M597.3 490.7l6.4 -6.4M597.3 488.3l6.4 6.4M597.3 494.7l6.4 -6.4M598.3 493.3l6.4 6.4M598.3 499.7l6.4 -6.4M595.3 495.3l6.4 6.4M595.3 501.7l6.4 -6.4M595.3 498.3l6.4 6.4M595.3 504.7l6.4 -6.4M597.3 500.3l6.4 6.4M597.3 506.7l6.4 -6.4M594.3 503.3l6.4 6.4M594.3 509.7l6.4 -6.4M597.3 506.3l6.4 6.4M597.3 512.7l6.4 -6.4M598.3 509.3l6.4 6.4M598.3 515.7l6.4 -6.4M597.3 512.3l6.4 6.4M597.3 518.7l6.4 -6.4M588.3 471.3l6.4 6.4M588.3 477.7l6.4 -6.4M586.3 475.3l6.4 6.4M586.3 481.7l6.4 -6.4M587.3 479.3l6.4 6.4M587.3 485.7l6.4 -6.4M589.3 480.3l6.4 6.4M589.3 486.7l6.4 -6.4M590.3 472.3l6.4 6.4M590.3 478.7l6.4 -6.4M575.3 490.3l6.4 6.4M575.3 496.7l6.4 -6.4M583.3 486.3l6.4 6.4M583.3 492.7l6.4 -6.4M584.3 487.3l6.4 6.4M584.3 493.7l6.4 -6.4M574.3 515.3l6.4 6.4M574.3 521.7l6.4 -6.4M574.3 520.3l6.4 6.4M574.3 526.7l6.4 -6.4M581.3 527.3l6.4 6.4M581.3 533.7l6.4 -6.4M589.3 529.3l6.4 6.4M589.3 535.7l6.4 -6.4M585.3 497.3l6.4 6.4M585.3 503.7l6.4 -6.4M591.3 496.3l6.4 6.4M591.3 502.7l6.4 -6.4M589.3 502.3l6.4 6.4M589.3 508.7l6.4 -6.4M580.3 509.3l6.4 6.4M580.3 515.7l6.4 -6.4M583.3 509.3l6.4 6.4M583.3 515.7l6.4 -6.4M585.3 509.3l6.4 6.4M585.3 515.7l6.4 -6.4M588.3 510.3l6.4 6.4M588.3 516.7l6.4 -6.4M592.3 509.3l6.4 6.4M592.3 515.7l6.4 -6.4M594.3 509.3l6.4 6.4M594.3 515.7l6.4 -6.4M582.3 512.3l6.4 6.4M582.3 518.7l6.4 -6.4M585.3 513.3l6.4 6.4M585.3 519.7l6.4 -6.4M589.3 512.3l6.4 6.4M589.3 518.7l6.4 -6.4M597.3 513.3l6.4 6.4M597.3 519.7l6.4 -6.4M601.3 512.3l6.4 6.4M601.3 518.7l6.4 -6.4M580.3 516.3l6.4 6.4M580.3 522.7l6.4 -6.4M582.3 515.3l6.4 6.4M582.3 521.7l6.4 -6.4M588.3 515.3l6.4 6.4M588.3 521.7l6.4 -6.4M591.3 516.3l6.4 6.4M591.3 522.7l6.4 -6.4M595.3 515.3l6.4 6.4M595.3 521.7l6.4 -6.4M598.3 515.3l6.4 6.4M598.3 521.7l6.4 -6.4M600.3 515.3l6.4 6.4M600.3 521.7l6.4 -6.4M579.3 519.3l6.4 6.4M579.3 525.7l6.4 -6.4M586.3 518.3l6.4 6.4M586.3 524.7l6.4 -6.4M589.3 519.3l6.4 6.4M589.3 525.7l6.4 -6.4M592.3 518.3l6.4 6.4M592.3 524.7l6.4 -6.4M595.3 518.3l6.4 6.4M595.3 524.7l6.4 -6.4M597.3 518.3l6.4 6.4M597.3 524.7l6.4 -6.4M600.3 519.3l6.4 6.4M600.3 525.7l6.4 -6.4M579.3 522.3l6.4 6.4M579.3 528.7l6.4 -6.4M583.3 522.3l6.4 6.4M583.3 528.7l6.4 -6.4M585.3 522.3l6.4 6.4M585.3 528.7l6.4 -6.4M591.3 522.3l6.4 6.4M591.3 528.7l6.4 -6.4M598.3 522.3l6.4 6.4M598.3 528.7l6.4 -6.4M600.3 521.3l6.4 6.4M600.3 527.7l6.4 -6.4M580.3 524.3l6.4 6.4M580.3 530.7l6.4 -6.4M582.3 525.3l6.4 6.4M582.3 531.7l6.4 -6.4M585.3 524.3l6.4 6.4M585.3 530.7l6.4 -6.4M588.3 524.3l6.4 6.4M588.3 530.7l6.4 -6.4M592.3 525.3l6.4 6.4M592.3 531.7l6.4 -6.4M595.3 524.3l6.4 6.4M595.3 530.7l6.4 -6.4M597.3 524.3l6.4 6.4M597.3 530.7l6.4 -6.4M600.3 524.3l6.4 6.4M600.3 530.7l6.4 -6.4M579.3 527.3l6.4 6.4M579.3 533.7l6.4 -6.4M589.3 528.3l6.4 6.4M589.3 534.7l6.4 -6.4M591.3 527.3l6.4 6.4M591.3 533.7l6.4 -6.4M598.3 527.3l6.4 6.4M598.3 533.7l6.4 -6.4M600.3 528.3l6.4 6.4M600.3 534.7l6.4 -6.4M758.3 436.3l6.4 6.4M758.3 442.7l6.4 -6.4M703.3 462.3l6.4 6.4M703.3 468.7l6.4 -6.4M757.3 463.3l6.4 6.4M757.3 469.7l6.4 -6.4M704.3 482.3l6.4 6.4M704.3 488.7l6.4 -6.4M746.3 478.3l6.4 6.4M746.3 484.7l6.4 -6.4M783.3 475.3l6.4 6.4M783.3 481.7l6.4 -6.4M788.3 473.3l6.4 6.4M788.3 479.7l6.4 -6.4M790.3 476.3l6.4 6.4M790.3 482.7l6.4 -6.4M783.3 480.3l6.4 6.4M783.3 486.7l6.4 -6.4M815.3 477.3l6.4 6.4M815.3 483.7l6.4 -6.4M827.3 473.3l6.4 6.4M827.3 479.7l6.4 -6.4M773.3 487.3l6.4 6.4M773.3 493.7l6.4 -6.4M734.3 488.3l6.4 6.4M734.3 494.7l6.4 -6.4M735.3 491.3l6.4 6.4M735.3 497.7l6.4 -6.4M742.3 493.3l6.4 6.4M742.3 499.7l6.4 -6.4M736.3 495.3l6.4 6.4M736.3 501.7l6.4 -6.4M769.3 495.3l6.4 6.4M769.3 501.7l6.4 -6.4M787.3 492.3l6.4 6.4M787.3 498.7l6.4 -6.4M794.3 491.3l6.4 6.4M794.3 497.7l6.4 -6.4M807.3 495.3l6.4 6.4M807.3 501.7l6.4 -6.4M824.3 490.3l6.4 6.4M824.3 496.7l6.4 -6.4M713.3 498.3l6.4 6.4M713.3 504.7l6.4 -6.4M710.3 503.3l6.4 6.4M710.3 509.7l6.4 -6.4M714.3 504.3l6.4 6.4M714.3 510.7l6.4 -6.4M743.3 500.3l6.4 6.4M743.3 506.7l6.4 -6.4M739.3 504.3l6.4 6.4M739.3 510.7l6.4 -6.4M736.3 499.3l6.4 6.4M736.3 505.7l6.4 -6.4M727.3 504.3l6.4 6.4M727.3 510.7l6.4 -6.4M724.3 506.3l6.4 6.4M724.3 512.7l6.4 -6.4M730.3 503.3l6.4 6.4M730.3 509.7l6.4 -6.4M749.3 504.3l6.4 6.4M749.3 510.7l6.4 -6.4M751.3 507.3l6.4 6.4M751.3 513.7l6.4 -6.4M759.3 503.3l6.4 6.4M759.3 509.7l6.4 -6.4M759.3 505.3l6.4 6.4M759.3 511.7l6.4 -6.4M758.3 507.3l6.4 6.4M758.3 513.7l6.4 -6.4M792.3 499.3l6.4 6.4M792.3 505.7l6.4 -6.4M801.3 503.3l6.4 6.4M801.3 509.7l6.4 -6.4M802.3 505.3l6.4 6.4M802.3 511.7l6.4 -6.4M769.3 506.3l6.4 6.4M769.3 512.7l6.4 -6.4M780.3 509.3l6.4 6.4M780.3 515.7l6.4 -6.4M817.3 506.3l6.4 6.4M817.3 512.7l6.4 -6.4M819.3 507.3l6.4 6.4M819.3 513.7l6.4 -6.4M822.3 509.3l6.4 6.4M822.3 515.7l6.4 -6.4M701.3 517.3l6.4 6.4M701.3 523.7l6.4 -6.4M706.3 526.3l6.4 6.4M706.3 532.7l6.4 -6.4M705.3 527.3l6.4 6.4M705.3 533.7l6.4 -6.4M716.3 525.3l6.4 6.4M716.3 531.7l6.4 -6.4M717.3 513.3l6.4 6.4M717.3 519.7l6.4 -6.4M720.3 511.3l6.4 6.4M720.3 517.7l6.4 -6.4M719.3 515.3l6.4 6.4M719.3 521.7l6.4 -6.4M724.3 515.3l6.4 6.4M724.3 521.7l6.4 -6.4M720.3 519.3l6.4 6.4M720.3 525.7l6.4 -6.4M727.3 510.3l6.4 6.4M727.3 516.7l6.4 -6.4M729.3 508.3l6.4 6.4M729.3 514.7l6.4 -6.4M732.3 518.3l6.4 6.4M732.3 524.7l6.4 -6.4M740.3 524.3l6.4 6.4M740.3 530.7l6.4 -6.4M747.3 511.3l6.4 6.4M747.3 517.7l6.4 -6.4M750.3 508.3l6.4 6.4M750.3 514.7l6.4 -6.4M754.3 516.3l6.4 6.4M754.3 522.7l6.4 -6.4M757.3 506.3l6.4 6.4M757.3 512.7l6.4 -6.4M759.3 509.3l6.4 6.4M759.3 515.7l6.4 -6.4M760.3 513.3l6.4 6.4M760.3 519.7l6.4 -6.4M761.3 515.3l6.4 6.4M761.3 521.7l6.4 -6.4M757.3 519.3l6.4 6.4M757.3 525.7l6.4 -6.4M759.3 523.3l6.4 6.4M759.3 529.7l6.4 -6.4M761.3 524.3l6.4 6.4M761.3 530.7l6.4 -6.4M764.3 521.3l6.4 6.4M764.3 527.7l6.4 -6.4M766.3 524.3l6.4 6.4M766.3 530.7l6.4 -6.4M757.3 525.3l6.4 6.4M757.3 531.7l6.4 -6.4M764.3 516.3l6.4 6.4M764.3 522.7l6.4 -6.4M769.3 507.3l6.4 6.4M769.3 513.7l6.4 -6.4M771.3 511.3l6.4 6.4M771.3 517.7l6.4 -6.4M777.3 516.3l6.4 6.4M777.3 522.7l6.4 -6.4M776.3 519.3l6.4 6.4M776.3 525.7l6.4 -6.4M785.3 529.3l6.4 6.4M785.3 535.7l6.4 -6.4M797.3 520.3l6.4 6.4M797.3 526.7l6.4 -6.4M799.3 525.3l6.4 6.4M799.3 531.7l6.4 -6.4M802.3 513.3l6.4 6.4M802.3 519.7l6.4 -6.4M806.3 514.3l6.4 6.4M806.3 520.7l6.4 -6.4M809.3 514.3l6.4 6.4M809.3 520.7l6.4 -6.4M812.3 515.3l6.4 6.4M812.3 521.7l6.4 -6.4M805.3 519.3l6.4 6.4M805.3 525.7l6.4 -6.4M810.3 520.3l6.4 6.4M810.3 526.7l6.4 -6.4M809.3 528.3l6.4 6.4M809.3 534.7l6.4 -6.4M821.3 510.3l6.4 6.4M821.3 516.7l6.4 -6.4M823.3 521.3l6.4 6.4M823.3 527.7l6.4 -6.4M842.3 402.3l6.4 6.4M842.3 408.7l6.4 -6.4M841.3 433.3l6.4 6.4M841.3 439.7l6.4 -6.4M843.3 461.3l6.4 6.4M843.3 467.7l6.4 -6.4M850.3 474.3l6.4 6.4M850.3 480.7l6.4 -6.4M849.3 481.3l6.4 6.4M849.3 487.7l6.4 -6.4M856.3 483.3l6.4 6.4M856.3 489.7l6.4 -6.4M831.3 490.3l6.4 6.4M831.3 496.7l6.4 -6.4M836.3 496.3l6.4 6.4M836.3 502.7l6.4 -6.4M835.3 500.3l6.4 6.4M835.3 506.7l6.4 -6.4M857.3 498.3l6.4 6.4M857.3 504.7l6.4 -6.4M832.3 510.3l6.4 6.4M832.3 516.7l6.4 -6.4M836.3 509.3l6.4 6.4M836.3 515.7l6.4 -6.4M844.3 508.3l6.4 6.4M844.3 514.7l6.4 -6.4M852.3 514.3l6.4 6.4M852.3 520.7l6.4 -6.4M853.3 515.3l6.4 6.4M853.3 521.7l6.4 -6.4M858.3 510.3l6.4 6.4M858.3 516.7l6.4 -6.4M859.3 513.3l6.4 6.4M859.3 519.7l6.4 -6.4M828.3 519.3l6.4 6.4M828.3 525.7l6.4 -6.4M838.3 521.3l6.4 6.4M838.3 527.7l6.4 -6.4M846.3 524.3l6.4 6.4M846.3 530.7l6.4 -6.4M498.3 412.3l6.4 6.4M498.3 418.7l6.4 -6.4M758.3 500.3l6.4 6.4M758.3 506.7l6.4 -6.4M760.3 503.3l6.4 6.4M760.3 509.7l6.4 -6.4M761.3 506.3l6.4 6.4M761.3 512.7l6.4 -6.4M759.3 508.3l6.4 6.4M759.3 514.7l6.4 -6.4M762.3 510.3l6.4 6.4M762.3 516.7l6.4 -6.4M763.3 514.3l6.4 6.4M763.3 520.7l6.4 -6.4M758.3 521.3l6.4 6.4M758.3 527.7l6.4 -6.4M760.3 523.3l6.4 6.4M760.3 529.7l6.4 -6.4M762.3 525.3l6.4 6.4M762.3 531.7l6.4 -6.4M764.3 526.3l6.4 6.4M764.3 532.7l6.4 -6.4M766.3 527.3l6.4 6.4M766.3 533.7l6.4 -6.4M768.3 525.3l6.4 6.4M768.3 531.7l6.4 -6.4M759.3 527.3l6.4 6.4M759.3 533.7l6.4 -6.4M763.3 528.3l6.4 6.4M763.3 534.7l6.4 -6.4M761.3 521.3l6.4 6.4M761.3 527.7l6.4 -6.4M765.3 523.3l6.4 6.4M765.3 529.7l6.4 -6.4" stroke="#0072b2" stroke-width="1.1" fill="none"/>
<path d="M134.5 79.50h9M134.5 138.50h9M134.5 196.50h9M134.5 255.50h9M134.5 314.50h9M134.5 372.50h9M134.5 431.50h9M134.5 490.50h9M134.5 548.50h9M134.5 607.50h9M893.5 79.50h-9M893.5 167.50h-9M893.5 255.50h-9M893.5 343.50h-9M893.5 431.50h-9M893.5 519.50h-9M893.5 607.50h-9M134.50 607.5v-8M134.50 79.5v9M158.50 607.5v-4M158.50 79.5v4M182.50 607.5v-4M182.50 79.5v4M205.50 607.5v-4M205.50 79.5v4M229.50 607.5v-8M229.50 79.5v9M253.50 607.5v-4M253.50 79.5v4M277.50 607.5v-4M277.50 79.5v4M300.50 607.5v-4M300.50 79.5v4M324.50 607.5v-8M324.50 79.5v9M348.50 607.5v-4M348.50 79.5v4M371.50 607.5v-4M371.50 79.5v4M395.50 607.5v-4M395.50 79.5v4M419.50 607.5v-8M419.50 79.5v9M443.50 607.5v-4M443.50 79.5v4M466.50 607.5v-4M466.50 79.5v4M490.50 607.5v-4M490.50 79.5v4M514.50 607.5v-8M514.50 79.5v9M537.50 607.5v-4M537.50 79.5v4M561.50 607.5v-4M561.50 79.5v4M585.50 607.5v-4M585.50 79.5v4M609.50 607.5v-8M609.50 79.5v9M632.50 607.5v-4M632.50 79.5v4M656.50 607.5v-4M656.50 79.5v4M680.50 607.5v-4M680.50 79.5v4M703.50 607.5v-8M703.50 79.5v9M727.50 607.5v-4M727.50 79.5v4M751.50 607.5v-4M751.50 79.5v4M775.50 607.5v-4M775.50 79.5v4M798.50 607.5v-8M798.50 79.5v9M822.50 607.5v-4M822.50 79.5v4M846.50 607.5v-4M846.50 79.5v4M869.50 607.5v-4M869.50 79.5v4M893.50 607.5v-8M893.50 79.5v9" stroke="#000" stroke-width="1" fill="none"/>
<path d="M134.5 79.5H893.5V607.5H134.5Z" stroke="#000" stroke-width="1.15" fill="none"/>
<text x="513.7" y="44.7" font-family="Liberation Serif, serif" font-weight="bold" font-size="32" text-anchor="middle">NTP peer pondskater.cns.ipv6.vt.edu from m-8</text>
<g font-family="Liberation Sans, sans-serif" font-size="16" fill="#000">
<text x="126" y="85.7" text-anchor="end">8000.000</text>
<text x="126" y="144.4" text-anchor="end">6000.000</text>
<text x="126" y="203.0" text-anchor="end">4000.000</text>
<text x="126" y="261.7" text-anchor="end">2000.000</text>
<text x="126" y="320.4" text-anchor="end">0.000</text>
<text x="126" y="379.0" text-anchor="end">-2000.000</text>
<text x="126" y="437.7" text-anchor="end">-4000.000</text>
<text x="126" y="496.4" text-anchor="end">-6000.000</text>
<text x="126" y="555.0" text-anchor="end">-8000.000</text>
<text x="126" y="613.7" text-anchor="end">-10000.000</text>
<text x="903.5" y="85.7">140.000</text>
<text x="903.5" y="173.7">120.000</text>
<text x="903.5" y="261.7">100.000</text>
<text x="903.5" y="349.7">80.000</text>
<text x="903.5" y="437.7">60.000</text>
<text x="903.5" y="525.7">40.000</text>
<text x="903.5" y="613.7">20.000</text>
<text transform="translate(129.7,618) rotate(-90)" text-anchor="end" textLength="80.5" lengthAdjust="spacingAndGlyphs">2026-01-05</text>
<text transform="translate(151.6,618) rotate(-90)" text-anchor="end" textLength="38.5" lengthAdjust="spacingAndGlyphs">00:00</text>
<text transform="translate(224.6,618) rotate(-90)" text-anchor="end" textLength="80.5" lengthAdjust="spacingAndGlyphs">2026-01-06</text>
<text transform="translate(246.5,618) rotate(-90)" text-anchor="end" textLength="38.5" lengthAdjust="spacingAndGlyphs">00:00</text>
<text transform="translate(319.4,618) rotate(-90)" text-anchor="end" textLength="80.5" lengthAdjust="spacingAndGlyphs">2026-01-07</text>
<text transform="translate(341.4,618) rotate(-90)" text-anchor="end" textLength="38.5" lengthAdjust="spacingAndGlyphs">00:00</text>
<text transform="translate(414.3,618) rotate(-90)" text-anchor="end" textLength="80.5" lengthAdjust="spacingAndGlyphs">2026-01-08</text>
<text transform="translate(436.2,618) rotate(-90)" text-anchor="end" textLength="38.5" lengthAdjust="spacingAndGlyphs">00:00</text>
<text transform="translate(509.2,618) rotate(-90)" text-anchor="end" textLength="80.5" lengthAdjust="spacingAndGlyphs">2026-01-09</text>
<text transform="translate(531.1,618) rotate(-90)" text-anchor="end" textLength="38.5" lengthAdjust="spacingAndGlyphs">00:00</text>
<text transform="translate(604.1,618) rotate(-90)" text-anchor="end" textLength="80.5" lengthAdjust="spacingAndGlyphs">2026-01-10</text>
<text transform="translate(626.0,618) rotate(-90)" text-anchor="end" textLength="38.5" lengthAdjust="spacingAndGlyphs">00:00</text>
<text transform="translate(699.0,618) rotate(-90)" text-anchor="end" textLength="80.5" lengthAdjust="spacingAndGlyphs">2026-01-11</text>
<text transform="translate(720.9,618) rotate(-90)" text-anchor="end" textLength="38.5" lengthAdjust="spacingAndGlyphs">00:00</text>
<text transform="translate(793.8,618) rotate(-90)" text-anchor="end" textLength="80.5" lengthAdjust="spacingAndGlyphs">2026-01-12</text>
<text transform="translate(815.7,618) rotate(-90)" text-anchor="end" textLength="38.5" lengthAdjust="spacingAndGlyphs">00:00</text>
<text transform="translate(888.7,618) rotate(-90)" text-anchor="end" textLength="80.5" lengthAdjust="spacingAndGlyphs">2026-01-13</text>
<text transform="translate(910.6,618) rotate(-90)" text-anchor="end" textLength="38.5" lengthAdjust="spacingAndGlyphs">00:00</text>
<text transform="translate(23.4,343.6) rotate(-90)" text-anchor="middle" textLength="82.5" lengthAdjust="spacingAndGlyphs">Offset (ms)</text>
<text transform="translate(992.2,343) rotate(-90)" text-anchor="middle" textLength="78.5" lengthAdjust="spacingAndGlyphs">Delay (ms)</text>
<text x="514.2" y="735.6" text-anchor="middle" textLength="30.5" lengthAdjust="spacingAndGlyphs">UTC</text>
<text x="452.5" y="753.8" text-anchor="end" textLength="200.5" lengthAdjust="spacingAndGlyphs">time offset (+/- dispersion)</text>
<text x="766.5" y="754" text-anchor="end" textLength="40" lengthAdjust="spacingAndGlyphs">delay</text>
</g>
<path d="M478.7 747.5h7M482.2 744v7" stroke="#e51e10" stroke-width="1" fill="none"/>
<path d="M794.2 744.3l6.6 6.6M794.2 750.9l6.6 -6.6" stroke="#0072b2" stroke-width="1" fill="none"/>
</svg>
</body></html>
